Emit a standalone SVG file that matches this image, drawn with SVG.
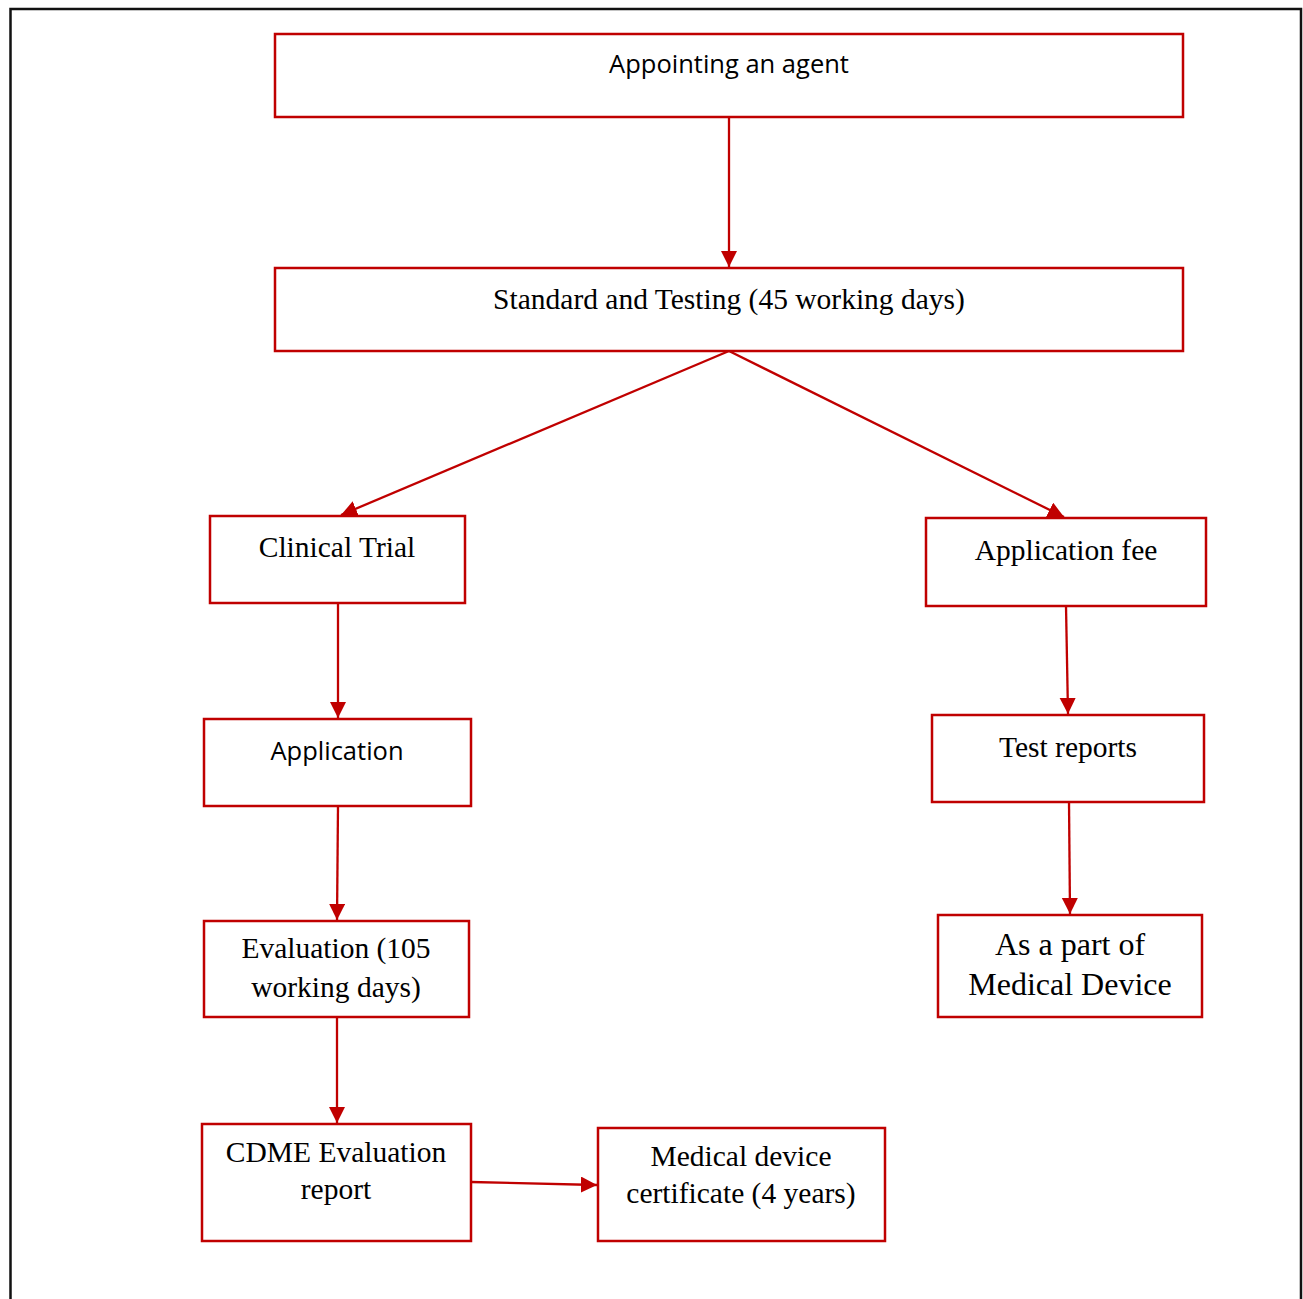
<svg xmlns="http://www.w3.org/2000/svg" width="1303" height="1299" viewBox="0 0 1303 1299">
<style>
.box{fill:#fff;stroke:#C00000;stroke-width:2.5}
.serif{font-family:"Liberation Serif","Times New Roman",serif;font-size:29.5px;fill:#000;text-anchor:middle}
.sans{font-family:"Open Sans","Liberation Sans",sans-serif;font-size:25.5px;fill:#000;text-anchor:middle}
.conn{stroke:#C00000;stroke-width:2.3;fill:none;marker-end:url(#ah)}
</style>
<defs>
<marker id="ah" markerWidth="8" markerHeight="8" refX="7" refY="3.5" orient="auto" markerUnits="strokeWidth">
<path d="M0,0 L7,3.5 L0,7 Z" fill="#C00000"/>
</marker>
</defs>
<rect width="1303" height="1299" fill="#fff"/>
<path d="M10.5,1299 V9 H1301 V1299" fill="none" stroke="#111" stroke-width="2.5"/>
<g id="connectors">
<line class="conn" x1="729" y1="117" x2="729" y2="267"/>
<line class="conn" x1="729" y1="351" x2="341" y2="515"/>
<line class="conn" x1="729" y1="351" x2="1064" y2="517"/>
<line class="conn" x1="338" y1="603" x2="338" y2="718"/>
<line class="conn" x1="338" y1="806" x2="337" y2="920"/>
<line class="conn" x1="337" y1="1017" x2="337" y2="1123"/>
<line class="conn" x1="1066" y1="606" x2="1068" y2="714"/>
<line class="conn" x1="1069" y1="802" x2="1070" y2="914"/>
<line class="conn" x1="471" y1="1182" x2="597" y2="1185"/>
</g>
<g id="n1"><rect class="box" x="275" y="34" width="908" height="83"/><text class="sans" x="729" y="73">Appointing an agent</text></g>
<g id="n2"><rect class="box" x="275" y="268" width="908" height="83"/><text class="serif" x="729" y="309">Standard and Testing (45 working days)</text></g>
<g id="n3"><rect class="box" x="210" y="516" width="255" height="87"/><text class="serif" x="337" y="557">Clinical Trial</text></g>
<g id="n4"><rect class="box" x="926" y="518" width="280" height="88"/><text class="serif" x="1066" y="560">Application fee</text></g>
<g id="n5"><rect class="box" x="204" y="719" width="267" height="87"/><text class="sans" x="337" y="760">Application</text></g>
<g id="n6"><rect class="box" x="932" y="715" width="272" height="87"/><text class="serif" x="1068" y="757">Test reports</text></g>
<g id="n7"><rect class="box" x="204" y="921" width="265" height="96"/><text class="serif" x="336" y="958">Evaluation (105</text><text class="serif" x="336" y="997">working days)</text></g>
<g id="n8"><rect class="box" x="938" y="915" width="264" height="102"/><text class="serif" x="1070" y="955" style="font-size:32px">As a part of</text><text class="serif" x="1070" y="995" style="font-size:32px">Medical Device</text></g>
<g id="n9"><rect class="box" x="202" y="1124" width="269" height="117"/><text class="serif" x="336" y="1162">CDME Evaluation</text><text class="serif" x="336" y="1199">report</text></g>
<g id="n10"><rect class="box" x="598" y="1128" width="287" height="113"/><text class="serif" x="741" y="1166">Medical device</text><text class="serif" x="741" y="1203">certificate (4 years)</text></g>
</svg>
